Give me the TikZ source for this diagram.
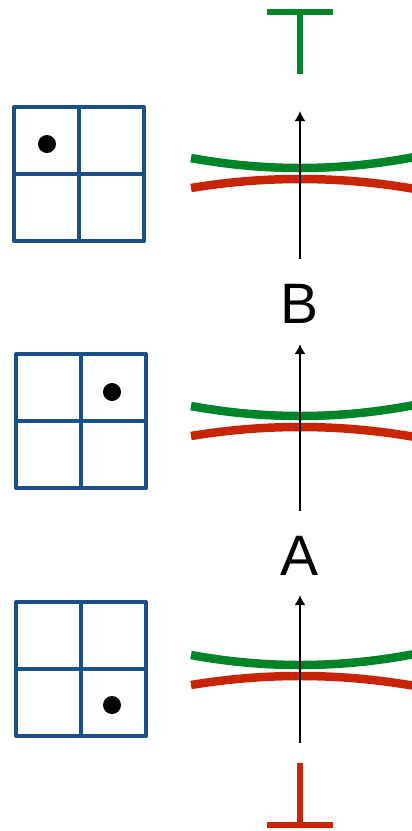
\documentclass[tikz,border=0pt]{standalone}
\usepackage{fontspec}
\setmainfont{Liberation Sans}
\usetikzlibrary{arrows.meta}
\definecolor{gridblue}{RGB}{27,79,138}
\definecolor{upgreen}{RGB}{0,132,40}
\definecolor{downred}{RGB}{200,36,6}

\begin{document}
\begin{tikzpicture}[x=1pt,y=-1pt,>={Latex[length=10pt,width=11pt]},
    cell/.style={gridblue,line width=4pt,line join=round},
    band/.style={line width=8.5pt},
    flow/.style={->,line width=2.2pt},
    bar/.style={line width=5.5pt},
    lbl/.style={font=\fontsize{57}{60}\selectfont,inner sep=0pt}]
  \useasboundingbox (0,0) rectangle (412,831);
  % top mark
  \coordinate (topL) at (267,12);
  \coordinate (topR) at (333,12);
  \coordinate (topM) at (300,12);
  \coordinate (topS) at (300,74);
  \draw[bar,upgreen] (topL) -- (topR);
  \draw[bar,upgreen] (topM) -- (topS);
  % three panels
  \foreach \gx/\gy/\dx/\dy/\c/\ab/\at [count=\i] in
      {14/107/33/37/168/259/111, 16/354/96/38/416/511/344, 16/602/96/103/665/743/595}{
    \draw[cell] (\gx,\gy) rectangle ++(130,134);
    \draw[cell] (\gx+65,\gy) -- ++(0,134);
    \draw[cell] (\gx,\gy+67) -- ++(130,0);
    \fill (\gx+\dx,\gy+\dy) circle (9);
    \draw[band,upgreen,domain=191:418,samples=60,smooth]
      plot (\x,{\c-10*((\x-300)/109)^2});
    \draw[band,downred,domain=191:418,samples=60,smooth]
      plot (\x,{\c+11+9*((\x-300)/109)^2});
    \coordinate (foot\i) at (300,\ab);
    \coordinate (tip\i) at (300,\at);
    \draw[flow] (foot\i) -- (tip\i);
  }
  \node[lbl,anchor=base] (B) at (300,323) {B};
  \node[lbl,anchor=base] (A) at (300,575) {A};
  % bottom mark
  \coordinate (botS) at (300,763);
  \coordinate (botM) at (300,825);
  \coordinate (botL) at (267,825);
  \coordinate (botR) at (333,825);
  \draw[bar,downred] (botS) -- (botM);
  \draw[bar,downred] (botL) -- (botR);
\end{tikzpicture}
\end{document}
